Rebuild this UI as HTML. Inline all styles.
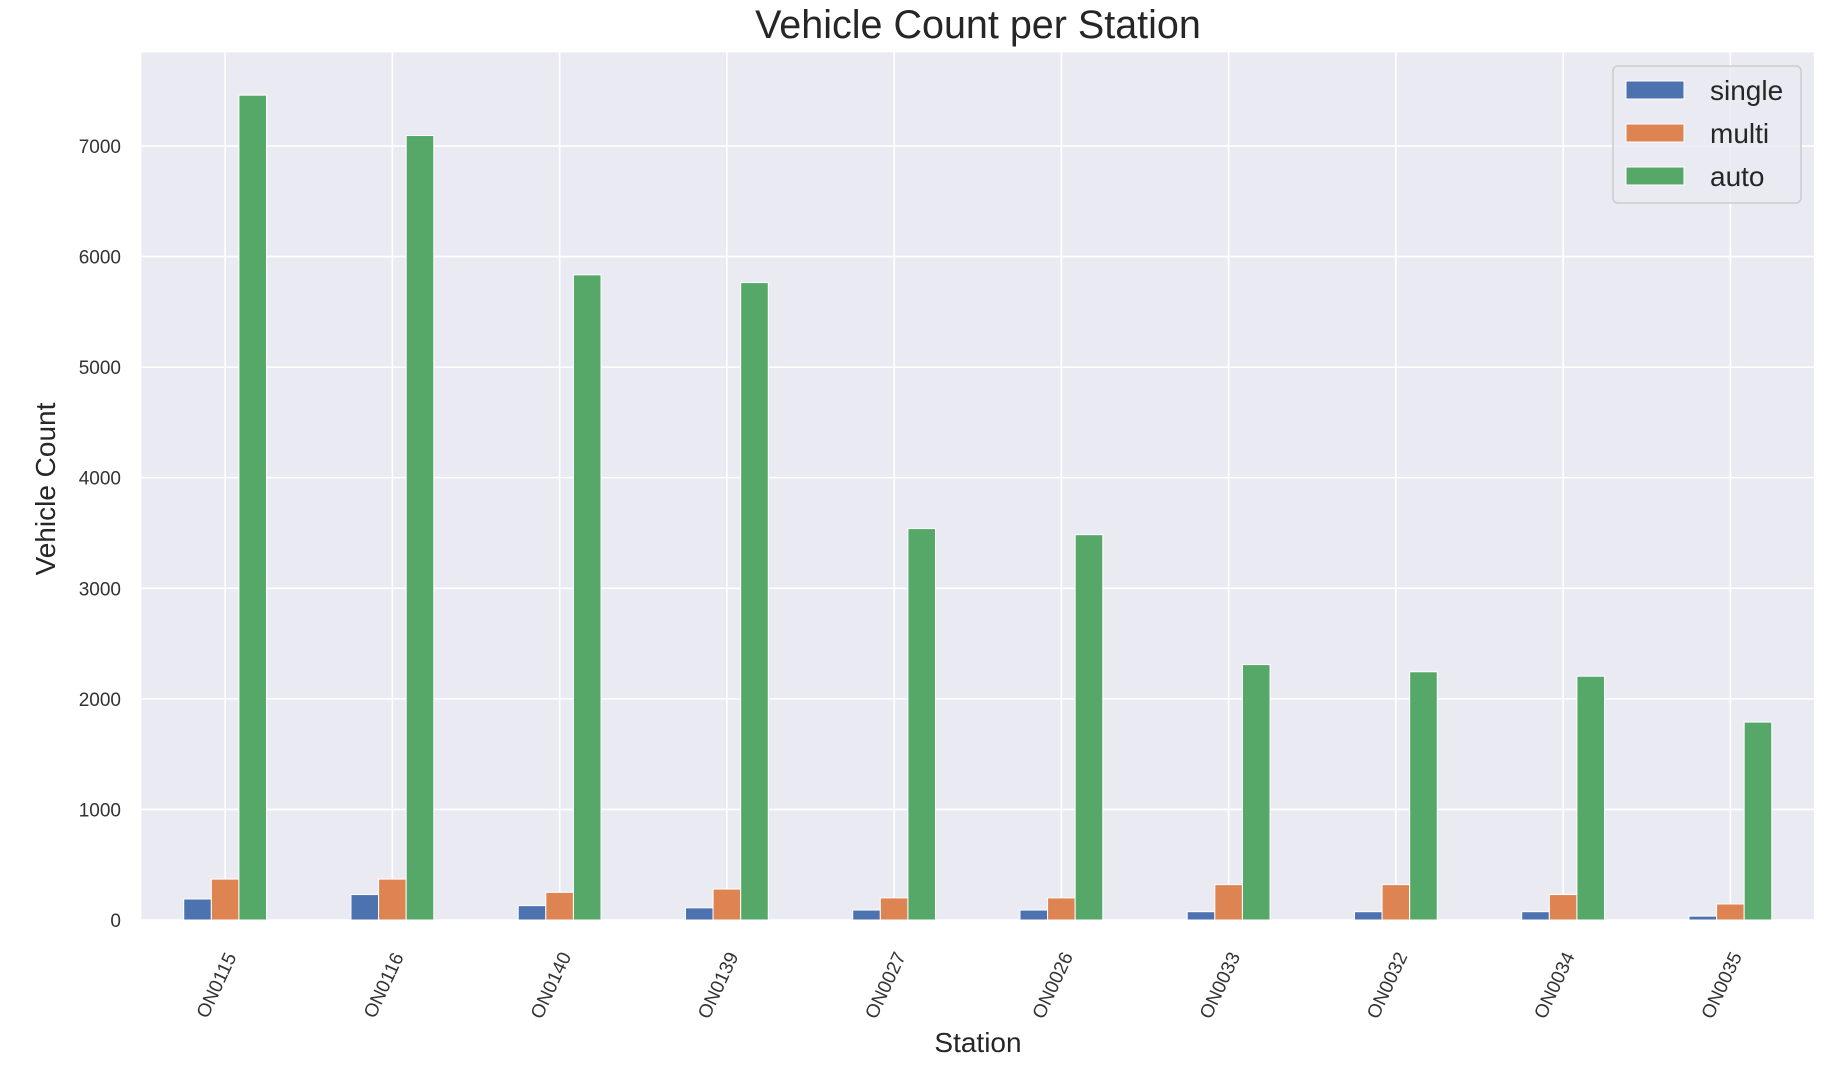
<!DOCTYPE html>
<html><head><meta charset="utf-8"><style>
html,body{margin:0;padding:0;background:#fff;}
svg{display:block;font-family:"Liberation Sans",Arial,sans-serif;}
</style></head><body>
<svg id="chart" width="1838" height="1066">
<rect x="141.5" y="52.5" width="1672.5" height="867.5" fill="#eaeaf2"/>
<g id="grid"></g>
<g id="bars"></g>
<g id="yticks"></g>
<g id="xticks"></g>
<text x="978" y="38" font-size="39.5" text-anchor="middle" fill="#262626">Vehicle Count per Station</text>
<text x="0" y="0" transform="translate(55,489) rotate(-90)" font-size="28" text-anchor="middle" fill="#262626">Vehicle Count</text>
<text x="978" y="1052" font-size="28" text-anchor="middle" fill="#262626">Station</text>
<g id="legend">
<rect x="1613" y="66" width="188" height="137" rx="5" fill="#eaeaf2" fill-opacity="0.8" stroke="#cccccc" stroke-width="1.5"/>
</g>
</svg>
<script>
const categories=["ON0115","ON0116","ON0140","ON0139","ON0027","ON0026","ON0033","ON0032","ON0034","ON0035"];
const singleVals=[190,230,130,110,90,90,75,75,75,35];
const multiVals=[370,370,250,280,200,200,320,320,230,145];
const autoVals=[7460,7095,5835,5765,3540,3485,2310,2245,2205,1790];
const seriesNames=["single","multi","auto"];
const yTicks=[0,1000,2000,3000,4000,5000,6000,7000];
const colors=["#4c72b0","#dd8452","#55a868"];
const NS="http://www.w3.org/2000/svg";
const L=141.5,R=1814,T=52.5,B=920;
const yMax=7846;
function y(v){return B-(v/yMax)*(B-T);}
const step=(R-L)/categories.length;
function xc(i){return L+step*(i+0.5);}
const bw=27.6;
function mk(tag,attrs,parent){const e=document.createElementNS(NS,tag);for(const k in attrs)e.setAttribute(k,attrs[k]);parent.appendChild(e);return e;}
const grid=document.getElementById('grid'),bars=document.getElementById('bars'),yt=document.getElementById('yticks'),xt=document.getElementById('xticks'),lg=document.getElementById('legend');
yTicks.forEach(v=>{
  const l=mk('line',{x1:L,x2:R,y1:y(v),y2:y(v),stroke:'#fff','stroke-width':1.6},grid);
  
  
  const t=mk('text',{x:121,y:y(v)+7,'font-size':19,'text-anchor':'end',fill:'#333'},yt);
  t.textContent=v;
  
  
});
const series=[singleVals,multiVals,autoVals];
categories.forEach((c,i)=>{
  const cx=xc(i);
  const g=mk('line',{x1:cx,x2:cx,y1:T,y2:B,stroke:'#fff','stroke-width':1.6},grid);
  
  
  series.forEach((s,k)=>{
    const x0=cx+(k-1)*bw-bw/2;
    const r=mk('rect',{x:x0,y:y(s[i]),width:bw,height:B-y(s[i]),fill:colors[k],stroke:'#fff','stroke-width':1},bars);
    
    
  });
  const t=mk('text',{x:0,y:0,transform:'translate('+(cx-3)+',988) rotate(-65)','font-size':19,'text-anchor':'middle',fill:'#333'},xt);
  t.textContent=c;
  
  
});
const rowY=[90,133,176];
seriesNames.forEach((n,k)=>{
  const s=mk('rect',{x:1626,y:rowY[k]-9,width:58,height:18,fill:colors[k],stroke:'#fff','stroke-width':1},lg);
  
  
  const t=mk('text',{x:1710,y:rowY[k]+10,'font-size':28,fill:'#262626'},lg);
  t.textContent=n;
  
  
});
</script>
</body></html>
